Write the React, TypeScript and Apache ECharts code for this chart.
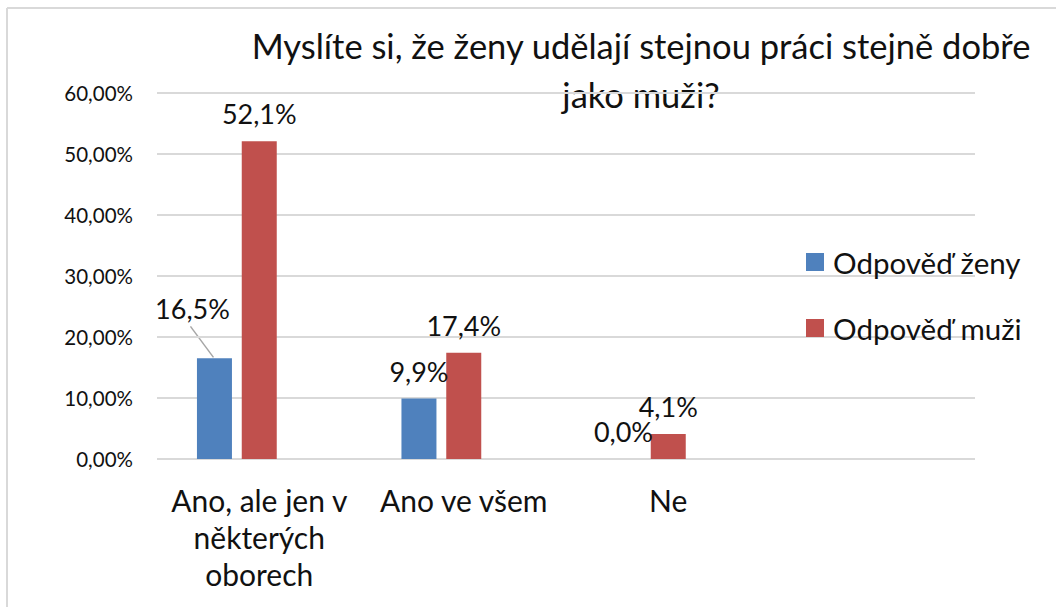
import React, { useEffect, useRef } from "react";
import * as echarts from "echarts";

const titleLine1 = "Myslíte si, že ženy udělají stejnou práci stejně dobře";
const titleLine2 = "jako muži?";
const categories = ["Ano, ale jen v\nněkterých\noborech", "Ano ve všem", "Ne", ""];
const seriesNames = ["Odpověď ženy", "Odpověď muži"];
const zenyValues: (number | null)[] = [0.165, 0.099, 0.0, null];
const muziValues: (number | null)[] = [0.521, 0.174, 0.041, null];
const emptyValues: (number | null)[] = [null, null, null, null];
const yTicks = { min: 0, max: 0.6, interval: 0.1 };

const FONT = "Lato, 'Open Sans', sans-serif";
const TEXT = "#111111";
const GRIDC = "#d9d9d9";

const fmtPct1 = (v: number) => (v * 100).toFixed(1).replace(".", ",") + "%";
const fmtPct2 = (v: number) => (v * 100).toFixed(2).replace(".", ",") + "%";

export default function App() {
  const ref = useRef<HTMLDivElement>(null);
  useEffect(() => {
    if (!ref.current) return;
    const chart = echarts.init(ref.current, undefined, { renderer: "svg" });
    const labelCommon = {
      show: true,
      position: "top" as const,
      distance: 14,
      fontFamily: FONT,
      fontSize: 27,
      color: TEXT,
      formatter: (p: any) => (p.value == null ? "" : fmtPct1(p.value)),
    };
    const movedLabel = { dx: -22, dy: -22 };
    const baseGraphic: any[] = [
      {
        id: "borderTop",
        type: "line",
        shape: { x1: 7, y1: 8, x2: 1056, y2: 8 },
        style: { stroke: GRIDC, lineWidth: 2 },
        silent: true,
      },
      {
        id: "borderLeft",
        type: "line",
        shape: { x1: 7, y1: 8, x2: 7, y2: 607 },
        style: { stroke: GRIDC, lineWidth: 2 },
        silent: true,
      },
      {
        id: "title1",
        type: "text",
        x: 641,
        y: 45,
        style: {
          text: titleLine1,
          fill: TEXT,
          font: `34.5px ${FONT}`,
          align: "center",
          verticalAlign: "middle",
          textAlign: "center",
          textVerticalAlign: "middle",
        },
      },
      {
        id: "title2",
        type: "text",
        x: 641,
        y: 94,
        style: {
          text: titleLine2,
          fill: TEXT,
          font: `34.5px ${FONT}`,
          align: "center",
          verticalAlign: "middle",
          textAlign: "center",
          textVerticalAlign: "middle",
        },
      },
    ];
    chart.setOption({
      animation: false,
      backgroundColor: "#ffffff",
      textStyle: { fontFamily: FONT },
      grid: { left: 157, right: 81, top: 93, bottom: 148, containLabel: false },
      legend: {
        data: seriesNames,
        orient: "vertical",
        left: 801,
        top: 240,
        icon: "rect",
        itemWidth: 18,
        itemHeight: 18,
        itemGap: 32,
        textStyle: { fontFamily: FONT, fontSize: 29.5, color: TEXT, lineHeight: 34, padding: [0, 0, 0, 4] },
      },
      xAxis: {
        type: "category",
        data: categories,
        axisLine: { show: false },
        axisTick: { show: false },
        axisLabel: {
          interval: 0,
          fontFamily: FONT,
          fontSize: 30,
          lineHeight: 37,
          color: TEXT,
          margin: 22,
        },
      },
      yAxis: {
        type: "value",
        min: yTicks.min,
        max: yTicks.max,
        interval: yTicks.interval,
        axisLine: { show: false },
        axisTick: { show: false },
        splitLine: { lineStyle: { color: GRIDC, width: 2 } },
        axisLabel: {
          fontFamily: FONT,
          fontSize: 20.5,
          color: TEXT,
          margin: 24,
          formatter: (v: number) => fmtPct2(v),
        },
      },
      series: [
        {
          name: seriesNames[0],
          type: "bar",
          data: zenyValues,
          barWidth: 35,
          barGap: "28%",
          itemStyle: { color: "#4F81BD" },
          label: labelCommon,
          labelLayout: (params: any) => (params.dataIndex === 0 ? movedLabel : {}),
        },
        {
          name: seriesNames[1],
          type: "bar",
          data: muziValues,
          barWidth: 35,
          barGap: "28%",
          itemStyle: { color: "#C0504D" },
          label: labelCommon,
        },
        {
          name: "",
          type: "bar",
          data: emptyValues,
          barWidth: 35,
          barGap: "28%",
          itemStyle: { color: "transparent" },
          label: { show: false },
        },
      ],
      graphic: baseGraphic,
    });

    // leader line for the moved label, from the bar layout computed by ECharts
    try {
      const data = (chart as any).getModel().getSeriesByIndex(0).getData();
      const lay = data.getItemLayout(0);
      if (lay) {
        const topY = Math.min(lay.y, lay.y + lay.height);
        const cx = lay.x + lay.width / 2;
        const labelBottomY = topY - 14 + movedLabel.dy;
        chart.setOption({
          graphic: [
            ...baseGraphic,
            {
              id: "leader",
              type: "line",
              shape: { x1: cx + movedLabel.dx - 2, y1: labelBottomY + 4, x2: cx - 1, y2: topY - 1 },
              style: { stroke: "#a6a6a6", lineWidth: 1.5 },
              silent: true,
            },
          ],
        });
      }
    } catch (e) {
      /* ignore */
    }
    return () => chart.dispose();
  }, []);
  return (
    <div
      ref={ref}
      style={{ position: "fixed", left: 0, top: 0, width: 1056, height: 607, background: "#fff" }}
    />
  );
}
